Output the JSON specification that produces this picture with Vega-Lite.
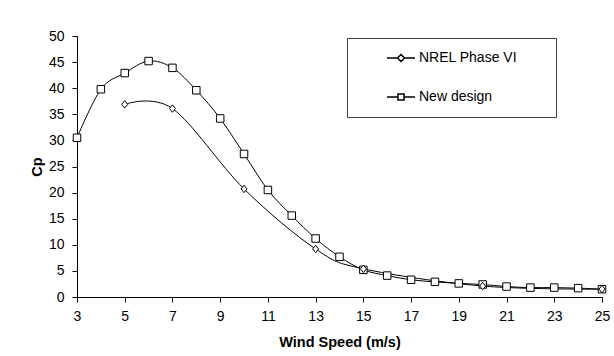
{
  "$schema": "https://vega.github.io/schema/vega-lite/v6.json",
  "width": 525,
  "height": 261,
  "autosize": {"type": "none"},
  "padding": {"left": 77, "top": 36, "right": 12, "bottom": 59},
  "background": "white",
  "config": {
    "font": "Liberation Sans",
    "view": {"stroke": null},
    "axis": {"domainColor": "black", "tickColor": "black", "labelColor": "black", "titleColor": "black", "grid": false, "labelFont": "Liberation Sans", "titleFont": "Liberation Sans"}
  },
  "data": {
    "values": [
      {"series": "New design", "wind": 3, "cp": 30.5},
      {"series": "New design", "wind": 4, "cp": 39.8},
      {"series": "New design", "wind": 5, "cp": 42.9},
      {"series": "New design", "wind": 6, "cp": 45.2},
      {"series": "New design", "wind": 7, "cp": 43.9},
      {"series": "New design", "wind": 8, "cp": 39.6},
      {"series": "New design", "wind": 9, "cp": 34.2},
      {"series": "New design", "wind": 10, "cp": 27.4},
      {"series": "New design", "wind": 11, "cp": 20.5},
      {"series": "New design", "wind": 12, "cp": 15.6},
      {"series": "New design", "wind": 13, "cp": 11.2},
      {"series": "New design", "wind": 14, "cp": 7.7},
      {"series": "New design", "wind": 15, "cp": 5.2},
      {"series": "New design", "wind": 16, "cp": 4.1},
      {"series": "New design", "wind": 17, "cp": 3.3},
      {"series": "New design", "wind": 18, "cp": 2.9},
      {"series": "New design", "wind": 19, "cp": 2.6},
      {"series": "New design", "wind": 20, "cp": 2.4},
      {"series": "New design", "wind": 21, "cp": 2.0},
      {"series": "New design", "wind": 22, "cp": 1.8},
      {"series": "New design", "wind": 23, "cp": 1.8},
      {"series": "New design", "wind": 24, "cp": 1.7},
      {"series": "New design", "wind": 25, "cp": 1.5},
      {"series": "NREL Phase VI", "wind": 5, "cp": 36.9},
      {"series": "NREL Phase VI", "wind": 7, "cp": 36.1},
      {"series": "NREL Phase VI", "wind": 10, "cp": 20.7},
      {"series": "NREL Phase VI", "wind": 13, "cp": 9.2},
      {"series": "NREL Phase VI", "wind": 15, "cp": 5.4},
      {"series": "NREL Phase VI", "wind": 20, "cp": 2.1},
      {"series": "NREL Phase VI", "wind": 25, "cp": 1.5}
    ]
  },
  "encoding": {
    "x": {
      "field": "wind", "type": "quantitative",
      "scale": {"domain": [3, 25], "nice": false, "zero": false},
      "axis": {"values": [3, 5, 7, 9, 11, 13, 15, 17, 19, 21, 23, 25], "title": "Wind Speed (m/s)", "labelFontSize": 14, "titleFontSize": 14.5, "titleFontWeight": "bold", "tickSize": 5, "labelPadding": 7, "titlePadding": 12, "labelFlush": false}
    },
    "y": {
      "field": "cp", "type": "quantitative",
      "scale": {"domain": [0, 50], "nice": false},
      "axis": {"values": [0, 5, 10, 15, 20, 25, 30, 35, 40, 45, 50], "title": "Cp", "labelFontSize": 14, "titleFontSize": 14.5, "titleFontWeight": "bold", "tickSize": 5, "labelPadding": 8, "titlePadding": 4}
    }
  },
  "resolve": {"scale": {"shape": "independent"}, "legend": {"shape": "independent"}},
  "layer": [
    {
      "mark": {"type": "line", "interpolate": "cardinal", "tension": 0, "color": "black", "strokeWidth": 1},
      "encoding": {"detail": {"field": "series"}}
    },
    {
      "mark": {"type": "point", "filled": true, "fill": "white", "stroke": "black", "strokeWidth": 1, "opacity": 1},
      "encoding": {
        "shape": {
          "field": "series", "type": "nominal",
          "scale": {"domain": ["NREL Phase VI", "New design"], "range": ["M0,-1L0.8,0L0,1L-0.8,0Z", "square"]},
          "legend": null
        },
        "size": {"value": 56}
      }
    },
    {
      "transform": [{"filter": "datum.wind > 100"}],
      "mark": {"type": "point", "filled": true, "fill": "white", "stroke": "black", "strokeWidth": 1, "opacity": 1},
      "encoding": {
        "shape": {
          "field": "series", "type": "nominal",
          "scale": {"domain": ["NREL Phase VI", "New design"], "range": ["M-1,0L-0.25,0M0.25,0L1,0M0,-0.25L0.25,0L0,0.25L-0.25,0Z", "M-1,0L-0.22,0M0.22,0L1,0M-0.22,-0.22L0.22,-0.22L0.22,0.22L-0.22,0.22Z"]},
          "legend": {
            "title": " ",
            "titleOrient": "right",
            "titlePadding": 29,
            "titleFontSize": 14,
            "orient": "none",
            "legendX": 270,
            "legendY": 2,
            "padding": 10,
            "symbolSize": 784,
            "symbolOffset": 29,
            "labelOffset": 3,
            "clipHeight": 20,
            "rowPadding": 19,
            "labelFontSize": 14,
            "labelFont": "Liberation Sans",
            "labelColor": "black",
            "strokeColor": "#444",
            "fillColor": "white",
            "encode": {
              "symbols": {"update": {
                "fill": {"value": "white"},
                "stroke": {"value": "black"},
                "strokeWidth": {"value": 1},
                "opacity": {"value": 1}
              }},
              "legend": {"update": {"strokeWidth": {"value": 1.5}}}
            }
          }
        },
        "size": {"value": 784}
      }
    }
  ]
}
